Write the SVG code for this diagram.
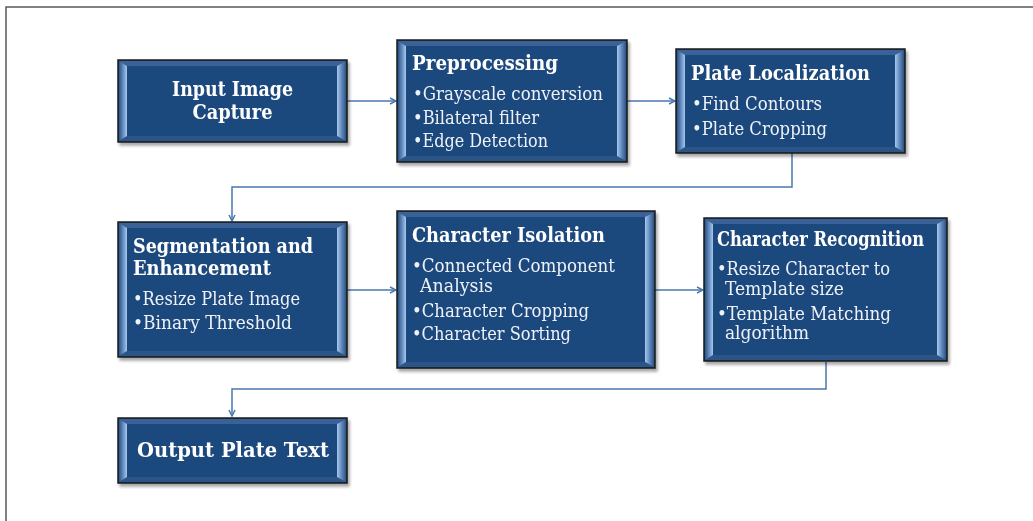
<svg xmlns="http://www.w3.org/2000/svg" width="1033" height="521" viewBox="0 0 1033 521">
<defs>
<style>
.frame{stroke:#5a5a5a;stroke-width:1.5;fill:none}
.box{fill:#1f497d;stroke:#1a1a1a;stroke-width:1.5}
.bl{fill:url(#gL)}
.br{fill:url(#gR)}
.bt{fill:#3a6297}
.bb{fill:#2a5486}
.t{font-family:"DejaVu Serif Condensed","Liberation Serif",serif;fill:#ffffff;font-weight:bold;font-size:20px}
.b{font-family:"DejaVu Serif Condensed","Liberation Serif",serif;fill:#eef2f8;font-size:18px}
.c{stroke:#4a78b0;stroke-width:1.5;fill:none;marker-end:url(#ah)}
</style>
<linearGradient id="gL" x1="0" y1="0" x2="1" y2="0">
<stop offset="0" stop-color="#2b5384"/><stop offset="0.6" stop-color="#6f97c9"/><stop offset="1" stop-color="#a9c8ee"/>
</linearGradient>
<linearGradient id="gR" x1="0" y1="0" x2="1" y2="0">
<stop offset="0" stop-color="#a9c8ee"/><stop offset="0.4" stop-color="#6f97c9"/><stop offset="1" stop-color="#2b5384"/>
</linearGradient>
<filter id="sh" x="-5%" y="-5%" width="115%" height="120%">
<feDropShadow dx="2" dy="3" stdDeviation="1.8" flood-color="#000" flood-opacity="0.35"/>
</filter>
<marker id="ah" markerWidth="8" markerHeight="8" refX="7" refY="4" orient="auto" markerUnits="userSpaceOnUse">
<path d="M1,1 L7,4 L1,7" fill="none" stroke="#4a78b0" stroke-width="1.5"/>
</marker>
</defs>
<rect width="1033" height="521" fill="#ffffff"/>
<path class="frame" d="M6,521 V7 H1033"/>

<g id="connectors">
<path class="c" d="M347,101 H396"/>
<path class="c" d="M627,101 H675"/>
<path class="c" d="M792,153 V187 H232 V221"/>
<path class="c" d="M347,290 H396"/>
<path class="c" d="M655,290 H703"/>
<path class="c" d="M826,362 V389 H232 V416"/>
</g>

<g id="n1" filter="url(#sh)">
<rect class="box" x="118" y="60" width="229" height="82"/>
<polygon class="bt" points="119,61 346,61 337,66 127,66"/>
<polygon class="bb" points="119,141 346,141 337,136 127,136"/>
<polygon class="bl" points="119,61 127,66 127,136 119,141"/>
<polygon class="br" points="337,66 346,61 346,141 337,136"/>
<text class="t" x="232.5" y="96" font-size="19" text-anchor="middle" textLength="121" lengthAdjust="spacingAndGlyphs">Input Image</text>
<text class="t" x="232.5" y="119" font-size="19" text-anchor="middle" textLength="80" lengthAdjust="spacingAndGlyphs">Capture</text>
</g>

<g id="n2" filter="url(#sh)">
<rect class="box" x="397" y="40" width="230" height="122"/>
<polygon class="bt" points="398,41 626,41 617,46 406,46"/>
<polygon class="bb" points="398,161 626,161 617,156 406,156"/>
<polygon class="bl" points="398,41 406,46 406,156 398,161"/>
<polygon class="br" points="617,46 626,41 626,161 617,156"/>
<text class="t" x="412" y="70" textLength="146" lengthAdjust="spacingAndGlyphs">Preprocessing</text>
<text class="b" x="413" y="100" textLength="190" lengthAdjust="spacingAndGlyphs">•Grayscale conversion</text>
<text class="b" x="413" y="124" textLength="126" lengthAdjust="spacingAndGlyphs">•Bilateral filter</text>
<text class="b" x="413" y="147" textLength="135" lengthAdjust="spacingAndGlyphs">•Edge Detection</text>
</g>

<g id="n3" filter="url(#sh)">
<rect class="box" x="676" y="49" width="229" height="104"/>
<polygon class="bt" points="677,50 904,50 895,55 685,55"/>
<polygon class="bb" points="677,152 904,152 895,147 685,147"/>
<polygon class="bl" points="677,50 685,55 685,147 677,152"/>
<polygon class="br" points="895,55 904,50 904,152 895,147"/>
<text class="t" x="691" y="80" textLength="179" lengthAdjust="spacingAndGlyphs">Plate Localization</text>
<text class="b" x="692" y="110" textLength="130" lengthAdjust="spacingAndGlyphs">•Find Contours</text>
<text class="b" x="692" y="135" textLength="135" lengthAdjust="spacingAndGlyphs">•Plate Cropping</text>
</g>

<g id="n4" filter="url(#sh)">
<rect class="box" x="118" y="222" width="229" height="135"/>
<polygon class="bt" points="119,223 346,223 337,228 127,228"/>
<polygon class="bb" points="119,356 346,356 337,351 127,351"/>
<polygon class="bl" points="119,223 127,228 127,351 119,356"/>
<polygon class="br" points="337,228 346,223 346,356 337,351"/>
<text class="t" x="133" y="253" textLength="180" lengthAdjust="spacingAndGlyphs">Segmentation and</text>
<text class="t" x="133" y="275" textLength="138" lengthAdjust="spacingAndGlyphs">Enhancement</text>
<text class="b" x="133" y="305" textLength="167" lengthAdjust="spacingAndGlyphs">•Resize Plate Image</text>
<text class="b" x="133" y="329" textLength="159" lengthAdjust="spacingAndGlyphs">•Binary Threshold</text>
</g>

<g id="n5" filter="url(#sh)">
<rect class="box" x="397" y="211" width="258" height="157"/>
<polygon class="bt" points="398,212 654,212 645,217 406,217"/>
<polygon class="bb" points="398,367 654,367 645,362 406,362"/>
<polygon class="bl" points="398,212 406,217 406,362 398,367"/>
<polygon class="br" points="645,217 654,212 654,367 645,362"/>
<text class="t" x="412" y="242" textLength="193" lengthAdjust="spacingAndGlyphs">Character Isolation</text>
<text class="b" x="412" y="272" textLength="203" lengthAdjust="spacingAndGlyphs">•Connected Component</text>
<text class="b" x="420" y="292" textLength="73" lengthAdjust="spacingAndGlyphs">Analysis</text>
<text class="b" x="412" y="317" textLength="177" lengthAdjust="spacingAndGlyphs">•Character Cropping</text>
<text class="b" x="412" y="340" textLength="159" lengthAdjust="spacingAndGlyphs">•Character Sorting</text>
</g>

<g id="n6" filter="url(#sh)">
<rect class="box" x="704" y="218" width="243" height="143"/>
<polygon class="bt" points="705,219 946,219 937,224 713,224"/>
<polygon class="bb" points="705,360 946,360 937,355 713,355"/>
<polygon class="bl" points="705,219 713,224 713,355 705,360"/>
<polygon class="br" points="937,224 946,219 946,360 937,355"/>
<text class="t" x="717" y="246" font-size="18" textLength="207" lengthAdjust="spacingAndGlyphs">Character Recognition</text>
<text class="b" x="717" y="275" textLength="173" lengthAdjust="spacingAndGlyphs">•Resize Character to</text>
<text class="b" x="725" y="295" textLength="119" lengthAdjust="spacingAndGlyphs">Template size</text>
<text class="b" x="717" y="320" textLength="174" lengthAdjust="spacingAndGlyphs">•Template Matching</text>
<text class="b" x="725" y="339" textLength="84" lengthAdjust="spacingAndGlyphs">algorithm</text>
</g>

<g id="n7" filter="url(#sh)">
<rect class="box" x="118" y="418" width="229" height="65"/>
<polygon class="bt" points="119,419 346,419 337,424 127,424"/>
<polygon class="bb" points="119,482 346,482 337,477 127,477"/>
<polygon class="bl" points="119,419 127,424 127,477 119,482"/>
<polygon class="br" points="337,424 346,419 346,482 337,477"/>
<text class="t" x="137" y="457" font-size="22" textLength="192" lengthAdjust="spacingAndGlyphs">Output Plate Text</text>
</g>
</svg>
